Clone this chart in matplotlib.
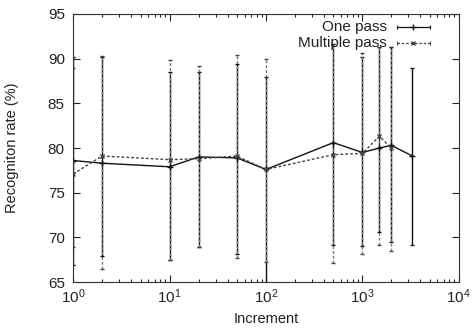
import matplotlib
matplotlib.use("Agg")
import matplotlib.pyplot as plt
from matplotlib.ticker import LogLocator, NullFormatter, MultipleLocator

plt.rcParams['font.family'] = ['Liberation Sans', 'DejaVu Sans']

# one pass (solid)
one_x = [1, 2, 10, 20, 50, 100, 500, 1000, 1500, 2000, 3300]
one_rate = [78.6, 78.3, 77.9, 79.0, 78.9, 77.6, 80.6, 79.5, 80.0, 80.3, 79.1]
one_lo = [66.9, 67.9, 67.5, 68.9, 68.2, 64.0, 69.1, 69.0, 70.6, 69.5, 69.2]
one_hi = [90.2, 90.2, 88.5, 88.5, 89.4, 87.9, 91.6, 90.2, 91.3, 91.3, 88.9]

# multiple pass (dashed)
multi_x = [1, 2, 10, 20, 50, 100, 500, 1000, 1500, 2000]
multi_rate = [77.1, 79.1, 78.7, 78.8, 79.1, 77.6, 79.25, 79.4, 81.3, 80.0]
multi_lo = [68.9, 66.5, 67.5, 68.9, 67.7, 67.2, 67.1, 68.1, 69.1, 68.45]
multi_hi = [88.9, 90.3, 89.85, 89.2, 90.4, 89.95, 91.6, 90.6, 91.3, 91.3]

labels = ['One pass', 'Multiple pass']


def err(rate, lo, hi):
    return [[r - l for r, l in zip(rate, lo)], [h - r for r, h in zip(rate, hi)]]


dash = (0, (2, 1.5))
txt = '#222222'

fig = plt.figure(figsize=(4.72, 3.3), dpi=100)
ax = fig.add_axes([0.155, 0.145, 0.817, 0.813])

ax.errorbar(one_x, one_rate, yerr=err(one_rate, one_lo, one_hi),
            color='#111111', lw=1.0, marker='+', ms=4, mew=1.0,
            elinewidth=1.0, capsize=1.5, capthick=0.8)
e2 = ax.errorbar(multi_x, multi_rate, yerr=err(multi_rate, multi_lo, multi_hi),
                 color='#444444', lw=1.0, ls=dash, marker='x', ms=3.5, mew=1.0,
                 elinewidth=1.0, capsize=1.5, capthick=0.8)
e2[2][0].set_linestyle(dash)
e2[2][0].set_color('#777777')

ax.set_xscale('log')
ax.set_xlim(1, 1e4)
ax.set_ylim(65, 95)
ax.yaxis.set_major_locator(MultipleLocator(5))
ax.xaxis.set_minor_locator(LogLocator(base=10, subs=range(2, 10)))
ax.xaxis.set_minor_formatter(NullFormatter())
ax.tick_params(which='both', direction='in', top=True, right=True, labelsize=11, colors=txt)
ax.tick_params(axis='y', pad=6)
ax.tick_params(axis='x', pad=4)
ax.tick_params(which='major', length=5, width=0.8)
ax.tick_params(which='minor', length=2.5, width=0.8)
for s in ax.spines.values():
    s.set_linewidth(0.8)
    s.set_color('#333333')

ax.set_xlabel('Increment', fontsize=10.5, color=txt)
ax.set_ylabel('Recogniton rate (%)', fontsize=10.5, color=txt)
ax.xaxis.set_label_coords(0.5, -0.11)
ax.yaxis.set_label_coords(-0.14, 0.5)

# gnuplot-style key: text, then sample line with end ticks and the point
key_y = [0.951, 0.892]
styles = [dict(color='#111111', ls='-', marker='+', ms=4),
          dict(color='#444444', ls=dash, marker='x', ms=3.5)]
for lab, yk, st in zip(labels, key_y, styles):
    ax.text(0.813, yk, lab, transform=ax.transAxes, ha='right', va='center',
            fontsize=11, color=txt)
    ax.plot([0.839, 0.925], [yk, yk], transform=ax.transAxes, color=st['color'],
            ls=st['ls'], lw=0.9, clip_on=False)
    ax.plot([0.839, 0.925], [yk, yk], transform=ax.transAxes, color=st['color'],
            ls='none', marker='|', ms=3, mew=0.8, clip_on=False)
    ax.plot([0.882], [yk], transform=ax.transAxes, color=st['color'], ls='none',
            marker=st['marker'], ms=st['ms'], mew=1.0, clip_on=False)

fig.savefig('out.png', dpi=100)
